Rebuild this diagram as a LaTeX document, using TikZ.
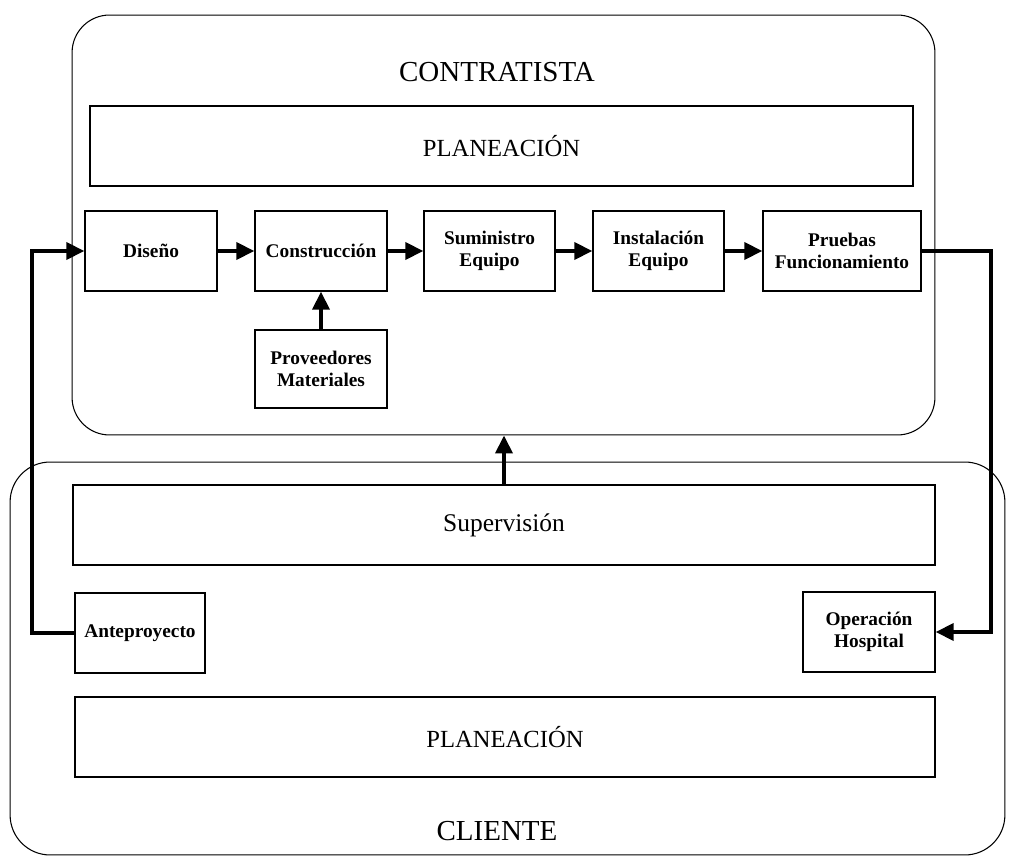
\documentclass[tikz,border=0pt]{standalone}
\usepackage{fontspec}
\setmainfont{Liberation Serif}
\usetikzlibrary{arrows.meta}

\tikzset{
	etapa/.style={draw, line width=0.8pt, font=\bfseries\fontsize{11}{12.5}\selectfont, align=center, minimum width=2.64cm, minimum height=1.6cm, inner sep=1pt},
	franja/.style={draw, line width=0.7pt, font=\fontsize{14}{16}\selectfont, minimum height=1.6cm},
	marco/.style={draw, line width=0.6pt, rounded corners=0.75cm},
	titulo/.style={font=\fontsize{16.5}{18}\selectfont},
	flecha/.style={line width=2.2pt, -{Triangle[length=0.36cm,width=0.34cm]}}
}

\begin{document}
\begin{tikzpicture}[x=0.02cm, y=-0.02cm]
	
	\useasboundingbox (0,0) rectangle (1012,858);
	
	% los dos marcos
	\node [marco, minimum width=17.26cm, minimum height=8.4cm] (contratista) at (503.5,225) {};
	
	\node [marco, rounded corners=0.8cm, minimum width=19.9cm, minimum height=7.86cm] (cliente) at (507.5,658.5) {};
	
	\node [titulo] (tcontratista) at (497,72) {CONTRATISTA};
	\node [titulo] (tcliente) at (497,831) {CLIENTE};
	
	\node [franja, minimum width=16.46cm] (planc) at (501.5,146) {PLANEACIÓN};
	
	% etapas del contratista
	\node [etapa] (diseno) at (151,251) {Diseño};
	\node [etapa] (construccion) at (321,251) {Construcción};
	\node [etapa, minimum width=2.62cm] (suministro) at (489.5,251) {Suministro\\Equipo};
	\node [etapa, minimum width=2.62cm] (instalacion) at (658.5,251) {Instalación\\Equipo};
	\node [etapa, minimum width=3.16cm] (pruebas) at (842,251) {Pruebas\\Funcionamiento};
	
	\node [etapa, minimum height=1.56cm] (proveedores) at (321,369) {Proveedores\\Materiales};
	
	% cliente
	\node [franja, minimum width=17.24cm, font=\fontsize{14.5}{16}\selectfont] (superv) at (504,525) {Supervisión};
	
	\node [etapa, minimum width=2.6cm] (antep) at (140,633) {Anteproyecto};
	\node [etapa] (operacion) at (869,632) {Operación\\Hospital};
	
	\node [franja, minimum width=17.2cm] (planl) at (505,737) {PLANEACIÓN};
	
	% flechas
	\draw [flecha] (diseno.east) -- (construccion.west);
	\draw [flecha] (construccion.east) -- (suministro.west);
	\draw [flecha] (suministro.east) -- (instalacion.west);
	\draw [flecha] (instalacion.east) -- (pruebas.west);
	
	\draw [flecha] (proveedores) -- (construccion);
	
	\draw [flecha] (superv.north) -- (superv.north |- contratista.south);
	
	\draw [flecha] (antep.west) -- ++(-42,0) |- (diseno.west);
	\draw [flecha] (pruebas.east) -- ++(69,0) |- (operacion.east);
	
\end{tikzpicture}
\end{document}
